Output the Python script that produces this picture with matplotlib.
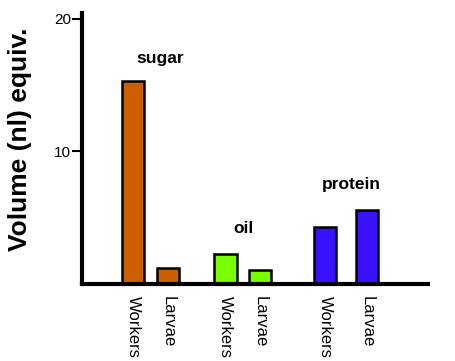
import matplotlib
matplotlib.use("Agg")
import matplotlib.pyplot as plt

groups = ["sugar", "oil", "protein"]
stages = ["Workers", "Larvae"]
workers = [15.3, 2.25, 4.3]
larvae = [1.2, 1.05, 5.6]
colors = ["#CC6000", "#77FF00", "#3A10FF"]

plt.rcParams["font.family"] = ["Liberation Sans", "DejaVu Sans"]

fig = plt.figure(figsize=(4.55, 3.61), dpi=100)
ax = fig.add_axes([0.180, 0.2133, 0.761, 0.750])

# bar centres in axis units (10 px each)
wpos = [5.15, 14.35, 24.3]
lpos = [8.6, 17.8, 28.5]
width = 2.2

for i, g in enumerate(groups):
    ax.bar(wpos[i], workers[i], width, color=colors[i], edgecolor="black", linewidth=1.8)
    ax.bar(lpos[i], larvae[i], width, color=colors[i], edgecolor="black", linewidth=1.8)

label_y = [16.4, 3.6, 6.9]
label_dx = [0.9, 0.1, 0.5]
label_x = [(wpos[i] + lpos[i]) / 2 for i in range(3)]
for i, g in enumerate(groups):
    ax.text(label_x[i] + label_dx[i], label_y[i], g, ha="center", va="bottom",
            fontsize=12.5, fontweight="bold")

ax.set_xlim(0, 34.6)
ax.set_ylim(0, 20.4)
ax.set_yticks([10, 20])
ax.set_yticklabels(["10", "20"], fontsize=11)
ax.tick_params(axis="y", direction="out", length=7, width=1.5, pad=1)

xt = []
xl = []
for i in range(3):
    xt += [wpos[i], lpos[i]]
    xl += stages
ax.set_xticks(xt)
ax.set_xticklabels(xl, rotation=-90, fontsize=12, va="top")
ax.tick_params(axis="x", length=0, pad=9)

for s in ["top", "right"]:
    ax.spines[s].set_visible(False)
ax.spines["left"].set_linewidth(3)
ax.spines["bottom"].set_linewidth(3)

ax.set_ylabel("Volume (nl) equiv.", fontsize=19, fontweight="bold")
ax.yaxis.set_label_coords(-0.145, 0.535)

fig.savefig("out.png", dpi=100)
